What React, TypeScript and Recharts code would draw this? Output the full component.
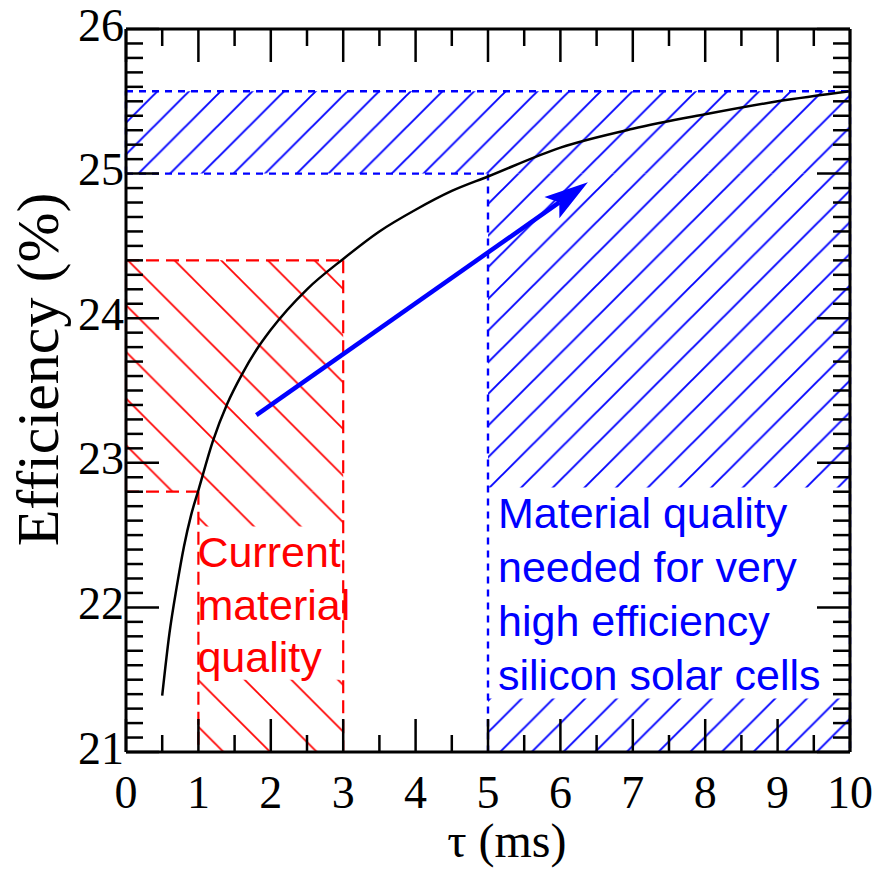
import React from "react";
import {
  ComposedChart,
  Line,
  XAxis,
  YAxis,
  ReferenceArea,
  ReferenceLine,
} from "recharts";

// axes
const tauMajor = [0, 1, 2, 3, 4, 5, 6, 7, 8, 9, 10];
const effMajor = [21, 22, 23, 24, 25, 26];

// efficiency vs bulk lifetime
const curveTau = [0.5, 0.6, 0.7, 0.8, 0.9, 1.0, 1.2, 1.4, 1.6, 1.8, 2.0, 2.5, 3.0, 3.5, 4.0, 4.5, 5.0, 6.0, 7.0, 8.0, 9.0, 10.0];
const curveEff = [21.39, 21.82, 22.14, 22.42, 22.64, 22.81, 23.15, 23.41, 23.61, 23.78, 23.92, 24.2, 24.41, 24.6, 24.75, 24.88, 24.98, 25.18, 25.31, 25.41, 25.5, 25.57];

// hatched regions, in axis units
const redHatch = [
  { x1: 0, x2: 3, y1: 22.8, y2: 24.4 },
  { x1: 1, x2: 3, y1: 22.56, y2: 22.8 },
];
const redHatchLow = [{ x1: 1, x2: 3, y1: 21, y2: 21.5 }];
const redTextBox = { x1: 1, x2: 3, y1: 21.5, y2: 22.56 };
const redEdges = [
  [{ x: 0, y: 24.4 }, { x: 3, y: 24.4 }],
  [{ x: 3, y: 24.4 }, { x: 3, y: 21 }],
  [{ x: 0, y: 22.8 }, { x: 1, y: 22.8 }],
  [{ x: 1, y: 22.8 }, { x: 1, y: 21 }],
  [{ x: 0, y: 22.8 }, { x: 0, y: 24.4 }],
];

const blueHatch = [
  { x1: 0, x2: 10, y1: 25, y2: 25.57 },
  { x1: 5, x2: 10, y1: 22.83, y2: 25 },
];
const blueHatchLow = [{ x1: 5, x2: 10, y1: 21, y2: 21.37 }];
const blueTextBox = { x1: 5, x2: 10, y1: 21.37, y2: 22.83 };
const blueEdges = [
  [{ x: 0, y: 25.57 }, { x: 10, y: 25.57 }],
  [{ x: 0, y: 25 }, { x: 5, y: 25 }],
  [{ x: 5, y: 25 }, { x: 5, y: 21 }],
  [{ x: 10, y: 25.57 }, { x: 10, y: 21 }],
  [{ x: 0, y: 25 }, { x: 0, y: 25.57 }],
];

const redText = ["Current", "material", "quality"];
const blueText = ["Material quality", "needed for very", "high efficiency", "silicon solar cells"];

const arrowFrom = { x: 1.8, y: 23.33 };
const arrowTo = { x: 6.38, y: 24.94 };

const RED = "#ff0000";
const BLUE = "#0000ff";
const serif = "'Liberation Serif', 'Times New Roman', serif";
const sans = "'Liberation Sans', Arial, sans-serif";

const tauTicks = tauMajor.flatMap((t, i) => (i < tauMajor.length - 1 ? [t, t + 0.5] : [t]));
const effTicks = effMajor.flatMap((t, i) =>
  i < effMajor.length - 1
    ? [0, 1, 2, 3, 4, 5, 6, 7, 8, 9].map((k) => Math.round((t + k / 10) * 10) / 10)
    : [t],
);

const curveData = curveTau.map((tau, i) => ({ tau, eff: curveEff[i] }));

const isMajor = (v: number) => Math.abs(v - Math.round(v)) < 1e-6;
const tickLen = (v: number) => (isMajor(v) ? 33 : 17);
const tickStroke = { stroke: "#000", strokeWidth: 2.5 };
const axisLine = { stroke: "#000", strokeWidth: 3 };

function BottomTick({ x, y, payload }: any) {
  const v = payload.value;
  return (
    <g>
      <line x1={x} y1={y} x2={x} y2={y - tickLen(v)} {...tickStroke} />
      {isMajor(v) && (
        <text x={x} y={y + 56} textAnchor="middle" fontFamily={serif} fontSize={46} fill="#000">
          {v}
        </text>
      )}
    </g>
  );
}

function TopTick({ x, y, payload }: any) {
  return <line x1={x} y1={y} x2={x} y2={y + tickLen(payload.value)} {...tickStroke} />;
}

function LeftTick({ x, y, payload }: any) {
  const v = payload.value;
  return (
    <g>
      <line x1={x} y1={y} x2={x + tickLen(v)} y2={y} {...tickStroke} />
      {isMajor(v) && (
        <text x={x - 2} y={y + 11.5} textAnchor="end" fontFamily={serif} fontSize={46} fill="#000">
          {v}
        </text>
      )}
    </g>
  );
}

function RightTick({ x, y, payload }: any) {
  return <line x1={x} y1={y} x2={x - tickLen(payload.value)} y2={y} {...tickStroke} />;
}

function HatchDefs() {
  const r = 46.67;
  const b = 31.67;
  return (
    <svg width={0} height={0} style={{ position: "absolute" }}>
      <defs>
        <pattern id="redA" patternUnits="userSpaceOnUse" width={r} height={r} x={7.5} y={0}>
          <path d={`M0,0L${r},${r}M${r - 6},-6L${r + 6},6M-6,${r - 6}L6,${r + 6}`} stroke={RED} strokeWidth={1.7} />
        </pattern>
        <pattern id="redB" patternUnits="userSpaceOnUse" width={r} height={r} x={31.6} y={0}>
          <path d={`M0,0L${r},${r}M${r - 6},-6L${r + 6},6M-6,${r - 6}L6,${r + 6}`} stroke={RED} strokeWidth={1.7} />
        </pattern>
        <pattern id="blueA" patternUnits="userSpaceOnUse" width={b} height={b} x={27} y={0}>
          <path d={`M0,${b}L${b},0M-6,6L6,-6M${b - 6},${b + 6}L${b + 6},${b - 6}`} stroke={BLUE} strokeWidth={1.9} />
        </pattern>
        <pattern id="blueB" patternUnits="userSpaceOnUse" width={b} height={b} x={16.9} y={0}>
          <path d={`M0,${b}L${b},0M-6,6L6,-6M${b - 6},${b + 6}L${b + 6},${b - 6}`} stroke={BLUE} strokeWidth={1.9} />
        </pattern>
      </defs>
    </svg>
  );
}

function ArrowShape(props: any) {
  const { x1, y1, x2, y2 } = props;
  const dx = x2 - x1;
  const dy = y2 - y1;
  const len = Math.hypot(dx, dy) || 1;
  const ux = dx / len;
  const uy = dy / len;
  const nx = -uy;
  const ny = ux;
  const headLen = 44;
  const half = 13;
  const notch = 35;
  const pt = (a: number, s: number) => `${x2 + ux * a + nx * s},${y2 + uy * a + ny * s}`;
  return (
    <g>
      <line x1={x1} y1={y1} x2={x2 - ux * notch} y2={y2 - uy * notch} stroke={BLUE} strokeWidth={4.5} />
      <polygon points={[pt(0, 0), pt(-headLen, half), pt(-notch, 0), pt(-headLen, -half)].join(" ")} fill={BLUE} />
    </g>
  );
}

const textBlock =
  (lines: string[], color: string, dx: number, first: number, step: number) =>
  (p: any) => {
    const vb = p.viewBox || {};
    return (
      <text fontFamily={sans} fontSize={43} fill={color}>
        {lines.map((l, i) => (
          <tspan key={l} x={vb.x + dx} y={vb.y + first + i * step}>
            {l}
          </tspan>
        ))}
      </text>
    );
  };

const xTitle = (p: any) => {
  const vb = p.viewBox || {};
  return (
    <text x={vb.x + vb.width * 0.526} y={vb.y + 105} textAnchor="middle" fontFamily={serif} fontSize={48} fill="#000">
      τ (ms)
    </text>
  );
};

const yTitle = (p: any) => {
  const vb = p.viewBox || {};
  const cx = vb.x + 2;
  const cy = vb.y + vb.height / 2 - 21;
  return (
    <text x={cx} y={cy} transform={`rotate(-90, ${cx}, ${cy})`} textAnchor="middle" fontFamily={serif} fontSize={60} fill="#000">
      Efficiency (%)
    </text>
  );
};

export default function App() {
  return (
    <div style={{ position: "absolute", left: 0, top: 0, width: 877, height: 871, background: "#fff" }}>
      <HatchDefs />
      <ComposedChart width={877} height={871} data={curveData} margin={{ top: 19, right: 17, bottom: 59, left: 56 }}>
        <XAxis
          dataKey="tau"
          type="number"
          domain={[0, 10]}
          ticks={tauTicks}
          interval={0}
          allowDataOverflow
          tickSize={0}
          tickMargin={0}
          tickLine={false}
          axisLine={axisLine}
          tick={BottomTick}
          height={60}
          label={xTitle}
        />
        <XAxis
          xAxisId="top"
          orientation="top"
          dataKey="tau"
          type="number"
          domain={[0, 10]}
          ticks={tauTicks}
          interval={0}
          allowDataOverflow
          tickSize={0}
          tickMargin={0}
          tickLine={false}
          axisLine={axisLine}
          tick={TopTick}
          height={10}
        />
        <YAxis
          type="number"
          domain={[21, 26]}
          ticks={effTicks}
          interval={0}
          allowDataOverflow
          tickSize={0}
          tickMargin={0}
          tickLine={false}
          axisLine={axisLine}
          tick={LeftTick}
          width={70}
          label={yTitle}
        />
        <YAxis
          yAxisId="right"
          orientation="right"
          type="number"
          domain={[21, 26]}
          ticks={effTicks}
          interval={0}
          allowDataOverflow
          tickSize={0}
          tickMargin={0}
          tickLine={false}
          axisLine={axisLine}
          tick={RightTick}
          width={10}
        />

        {redHatch.map((a, i) => (
          <ReferenceArea key={`ra${i}`} {...a} fill="url(#redA)" fillOpacity={1} stroke="none" />
        ))}
        {redHatchLow.map((a, i) => (
          <ReferenceArea key={`rb${i}`} {...a} fill="url(#redB)" fillOpacity={1} stroke="none" />
        ))}
        {blueHatch.map((a, i) => (
          <ReferenceArea key={`ba${i}`} {...a} fill="url(#blueA)" fillOpacity={1} stroke="none" />
        ))}
        {blueHatchLow.map((a, i) => (
          <ReferenceArea key={`bb${i}`} {...a} fill="url(#blueB)" fillOpacity={1} stroke="none" />
        ))}

        {redEdges.map((s, i) => (
          <ReferenceLine key={`re${i}`} segment={s} stroke={RED} strokeWidth={2.2} strokeDasharray="13 7" />
        ))}
        {blueEdges.map((s, i) => (
          <ReferenceLine key={`be${i}`} segment={s} stroke={BLUE} strokeWidth={2.4} strokeDasharray="7 6" />
        ))}

        <ReferenceArea {...redTextBox} fillOpacity={0} stroke="none" label={textBlock(redText, RED, -1, 41, 52.5)} />
        <ReferenceArea {...blueTextBox} fillOpacity={0} stroke="none" label={textBlock(blueText, BLUE, 10, 41, 53.9)} />

        <Line dataKey="eff" type="monotone" stroke="#000" strokeWidth={2.5} dot={false} isAnimationActive={false} />

        <ReferenceLine segment={[arrowFrom, arrowTo]} stroke={BLUE} shape={ArrowShape} />
      </ComposedChart>
    </div>
  );
}
